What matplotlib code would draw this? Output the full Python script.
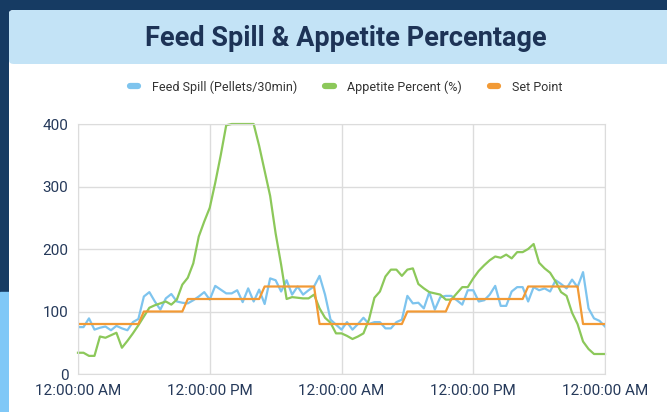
import matplotlib
matplotlib.use("Agg")
import matplotlib.pyplot as plt
import matplotlib.dates as mdates
from matplotlib.patches import Rectangle, FancyBboxPatch
from matplotlib.lines import Line2D
import pandas as pd

plt.rcParams['font.family'] = ['Roboto', 'DejaVu Sans']

# samples every 30 minutes over two days
times = pd.date_range('2024-01-01 00:00', periods=97, freq='30min')

feed_spill = [75, 75, 89, 71, 74, 76, 70, 77, 73, 70, 83, 88,
              124, 131, 116, 103, 121, 128, 116, 114, 113, 118, 124, 131, 119,
              141, 135, 129, 129, 134, 115, 137, 116, 135, 112, 153, 150,
              132, 150, 127, 140, 127, 134, 140, 157, 127, 87, 79, 71,
              83, 71, 80, 90, 80, 83, 83, 73, 73, 83, 87, 125,
              113, 114, 105, 131, 103, 123, 125, 125, 118, 111, 134, 134,
              116, 118, 127, 141, 109, 109, 132, 139, 139, 116, 139, 134,
              137, 132, 150, 144, 137, 151, 139, 163, 105, 89, 85, 76]

appetite = [34, 34, 29, 29, 60, 58, 62, 66, 42, 53, 65, 78,
            92, 106, 110, 113, 116, 111, 119, 143, 154, 177, 220, 244, 266,
            306, 350, 398, 400, 400, 400, 400, 400, 365, 325, 285, 225,
            175, 120, 123, 122, 121, 121, 127, 105, 90, 82, 65, 65,
            61, 56, 60, 65, 87, 122, 132, 156, 167, 167, 157, 167,
            169, 144, 137, 131, 129, 127, 119, 119, 129, 139, 139, 153,
            165, 174, 182, 188, 186, 191, 185, 195, 195, 200, 208, 178,
            169, 162, 148, 131, 125, 98, 80, 52, 40, 32, 32, 32]

set_point = [80, 80, 80, 80, 80, 80, 80, 80, 80, 80, 80, 80,
             100, 100, 100, 100, 100, 100, 100, 100,
             120, 120, 120, 120, 120, 120, 120, 120, 120, 120, 120, 120, 120, 120,
             140, 140, 140, 140, 140, 140, 140, 140, 140, 140,
             80, 80, 80, 80, 80, 80, 80, 80, 80, 80, 80, 80, 80, 80, 80, 80,
             100, 100, 100, 100, 100, 100, 100, 100,
             120, 120, 120, 120, 120, 120, 120, 120, 120, 120, 120, 120, 120, 120,
             140, 140, 140, 140, 140, 140, 140, 140, 140, 140,
             80, 80, 80, 80, 80]

series_names = ['Feed Spill (Pellets/30min)', 'Appetite Percent (%)', 'Set Point']
colors = ['#7ec4ee', '#8cc85a', '#f29a35']
y_ticks = [0, 100, 200, 300, 400]

W, H = 667, 412
fig = plt.figure(figsize=(W / 100, H / 100), dpi=100, facecolor='#163b63')

# background pieces (pixel coords -> figure fraction)
def px(x, y, w, h):
    return (x / W, 1 - (y + h) / H, w / W, h / H)

x0, y0, w0, h0 = px(0, 292, 9, 120)
fig.patches.append(Rectangle((x0, y0), w0, h0, transform=fig.transFigure, color='#80c8f7', zorder=-2))
x0, y0, w0, h0 = px(9, 10, 680, 420)
fig.patches.append(FancyBboxPatch((x0, y0), w0, h0, boxstyle='round,pad=0,rounding_size=0.008',
                                  transform=fig.transFigure, facecolor='white', edgecolor='none', zorder=-2))
x0, y0, w0, h0 = px(9, 10, 680, 54)
fig.patches.append(FancyBboxPatch((x0, y0), w0, h0, boxstyle='round,pad=0,rounding_size=0.008',
                                  transform=fig.transFigure, facecolor='#c3e3f6', edgecolor='none', zorder=-1))

fig.text(346 / W, 1 - 38 / H, 'Feed Spill & Appetite Percentage', ha='center', va='center',
         fontsize=19.5, fontweight='bold', color='#1d3356')

ax = fig.add_axes([78 / W, 1 - 374 / H, 527 / W, 250 / H])
ax.set_zorder(2)
ax.plot(times, feed_spill, color=colors[0], lw=1.6, label=series_names[0])
ax.plot(times, appetite, color=colors[1], lw=1.6, label=series_names[1], clip_on=False)
ax.plot(times, set_point, color=colors[2], lw=1.6, label=series_names[2])

ax.set_ylim(0, 400)
ax.set_yticks(y_ticks)
ax.set_xlim(times[0], times[-1])
ax.xaxis.set_major_locator(mdates.HourLocator(byhour=[0, 12]))
ax.xaxis.set_major_formatter(mdates.DateFormatter('%I:%M:%S %p'))
ax.grid(True, color='#dcdcdc', lw=1)
ax.set_axisbelow(True)
for s in ax.spines.values():
    s.set_color('#dcdcdc')
ax.tick_params(length=0, labelsize=11, colors='#25395a')
ax.tick_params(axis='x', pad=7)
ax.tick_params(axis='y', pad=7)

handles = [Line2D([0], [0], color=c, lw=4.5, solid_capstyle='round') for c in colors]
fig.legend(handles, series_names, loc='center', bbox_to_anchor=(346 / W, 1 - 87 / H), ncol=3,
           frameon=False, fontsize=9, handlelength=0.7, handletextpad=1.1, columnspacing=2.2,
           labelcolor='#333333')

fig.savefig('out.png', dpi=100, facecolor=fig.get_facecolor())
